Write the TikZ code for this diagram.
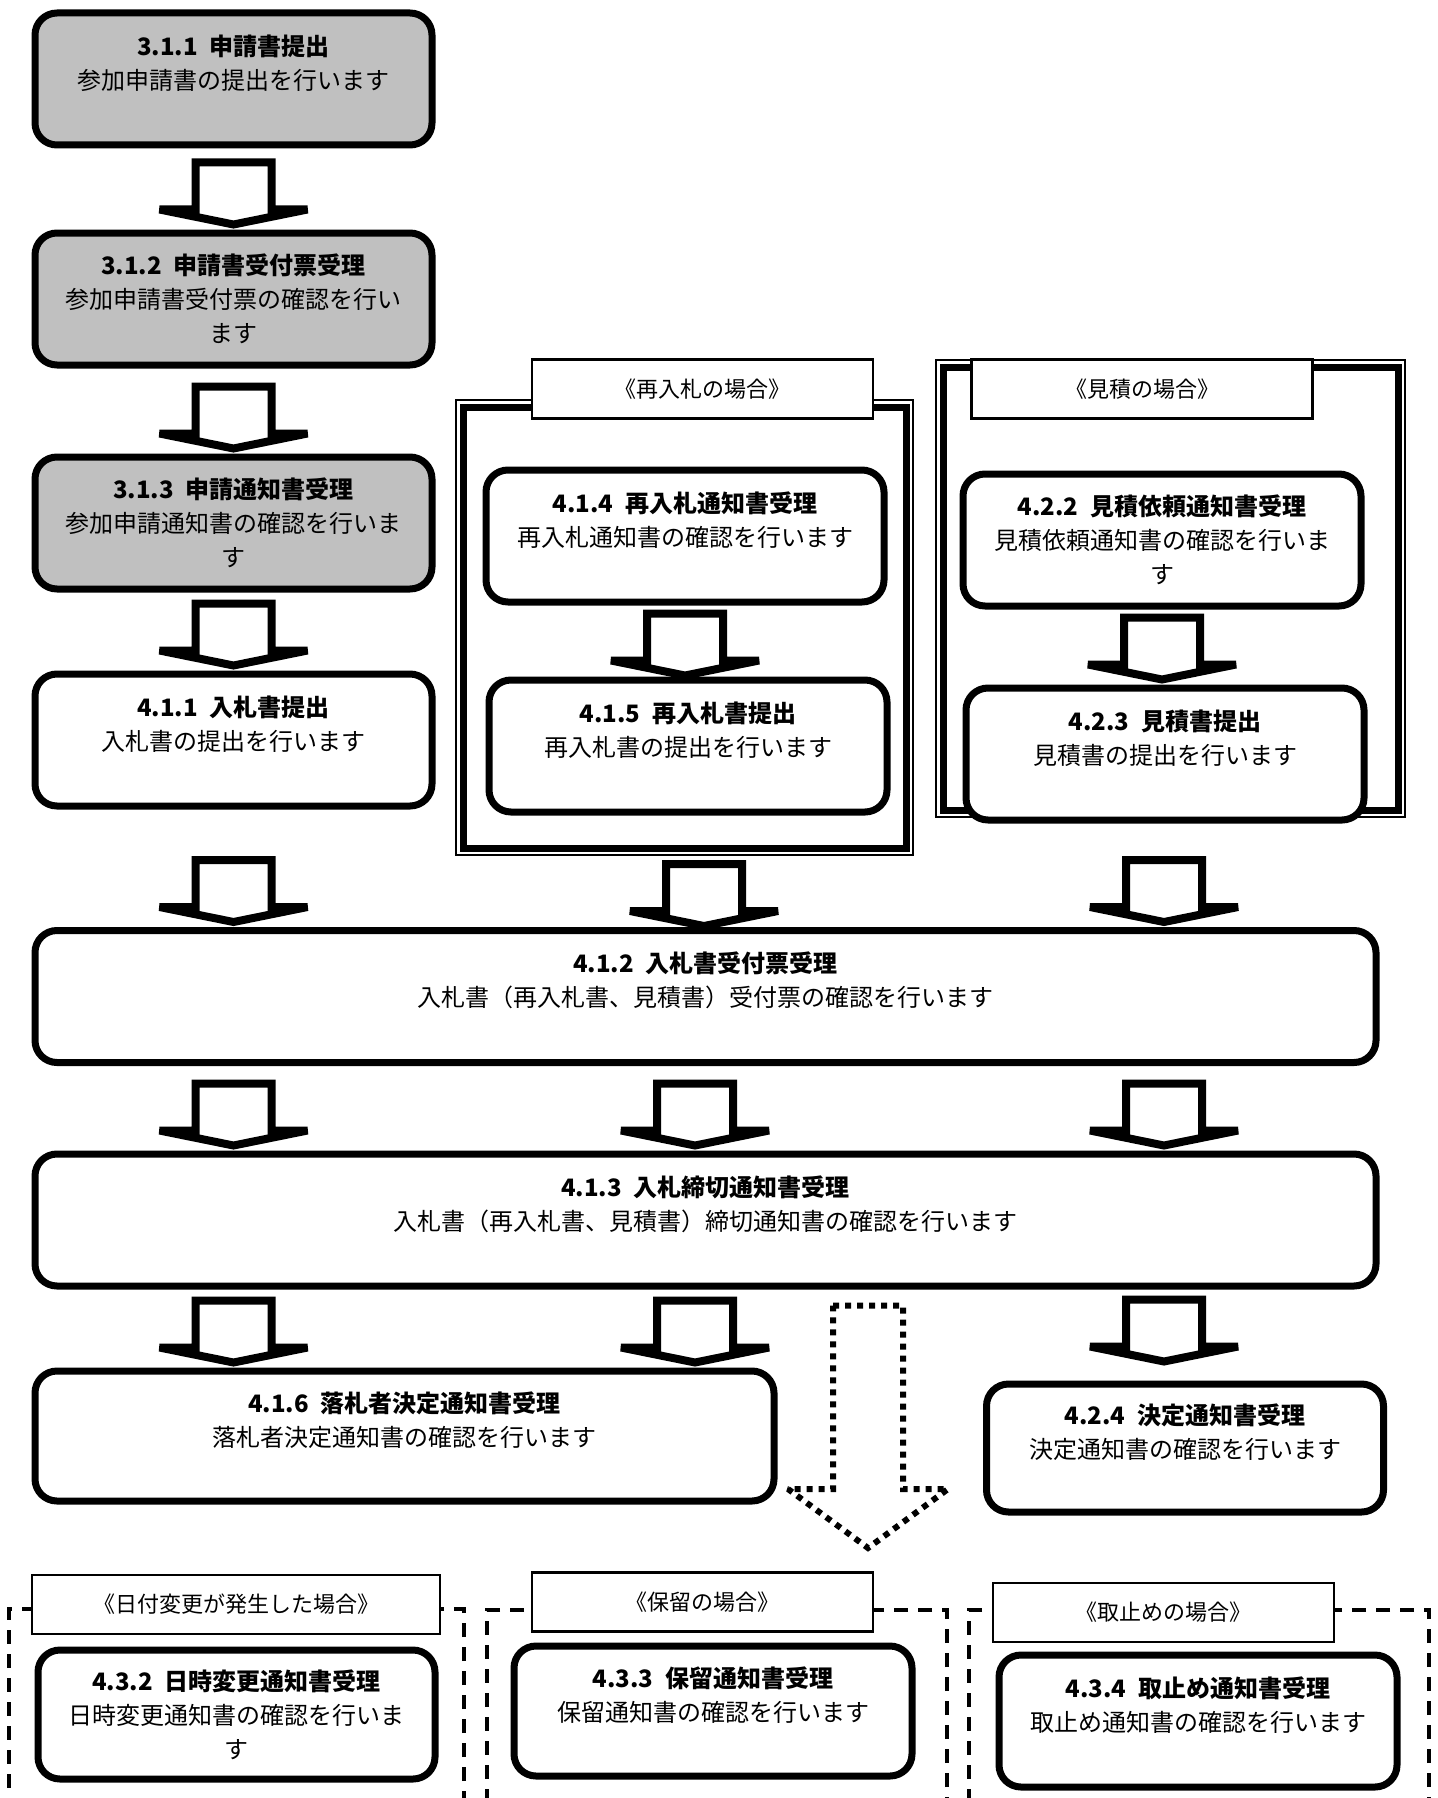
\documentclass[tikz,border=0pt]{standalone}
\usepackage{fontspec}
\setmainfont{Noto Sans CJK JP}
\usetikzlibrary{calc}
\definecolor{boxgray}{RGB}{192,192,192}
\newcommand*{\proctext}[4][\mbox{}]{\textbf{#2\hspace{0.5em}#3}\\#4\\#1}
\newcommand*{\flowarrow}[4][0]{%
  \draw[flow] let \p0=(#2), \p1=(#3.south), \p2=(#4.north),
      \p3=(\x0,{min(\y1-8pt,\y2+67pt+#1pt)}) in
    ({\x3-38pt},\y3) -- ({\x3+38pt},\y3) -- ({\x3+38pt},{\y3-47pt})
    -- ({\x3+74pt},{\y3-47pt}) -- (\x3,{\y3-62pt}) -- ({\x3-74pt},{\y3-47pt})
    -- ({\x3-38pt},{\y3-47pt}) -- cycle;}

\begin{document}
\begin{tikzpicture}[x=1pt, y=-1pt,
    proc/.style={draw, line width=7pt, rounded corners=22pt, fill=white,
      align=center, inner sep=0pt, minimum width=397pt, minimum height=132pt,
      font=\fontsize{24}{34}\selectfont},
    pre/.style={fill=boxgray},
    caption/.style={draw, line width=2.5pt, fill=white, minimum width=341pt,
      minimum height=59pt, font=\fontsize{22}{26}\selectfont},
    frame/.style={draw, line width=2pt, inner sep=0pt},
    optional/.style={draw, line width=4pt, dash pattern=on 14pt off 10pt,
      minimum width=460pt, minimum height=221pt},
    flow/.style={draw, fill=white, line width=8pt, miter limit=2},
    maybe/.style={draw, line width=6pt, dash pattern=on 6pt off 6pt, miter limit=2}]
  \useasboundingbox (0,0) rectangle (1437,1798);

  \node[frame, minimum width=457pt, minimum height=455pt] (grpM) at (684.5,627.5) {};
  \node[frame, minimum width=469pt, minimum height=457pt] (grpR) at (1170.5,588.5) {};
  \foreach \g in {grpM, grpR}
    \draw[line width=7pt] ([shift={(8,8)}]\g.north west) rectangle ([shift={(-8,-8)}]\g.south east);
  \node[caption] (labM) at (702.5,389) {《再入札の場合》};
  \node[caption] (labR) at (1142,389) {《見積の場合》};

  \node[optional, minimum width=455pt] (grp1) at (236.5,1719.5) {};
  \node[optional] (grp2) at (717,1720.5) {};
  \node[optional] (grp3) at (1199,1720.5) {};
  \node[caption, minimum width=408pt] (lab1) at (236,1604.5) {《日付変更が発生した場合》};
  \node[caption] (lab2) at (702.5,1602) {《保留の場合》};
  \node[caption] (lab3) at (1163.5,1612.5) {《取止めの場合》};

  \node[proc, pre] (b311) at (233.5,79) {\proctext{3.1.1}{申請書提出}{参加申請書の提出を行います}};
  \node[proc, pre] (b312) at (233.5,299) {\proctext[ます]{3.1.2}{申請書受付票受理}{参加申請書受付票の確認を行い}};
  \node[proc, pre] (b313) at (233.5,523) {\proctext[す]{3.1.3}{申請通知書受理}{参加申請通知書の確認を行いま}};
  \node[proc] (b411) at (233.5,740) {\proctext{4.1.1}{入札書提出}{入札書の提出を行います}};
  \node[proc, minimum width=398pt] (b414) at (685,536) {\proctext{4.1.4}{再入札通知書受理}{再入札通知書の確認を行います}};
  \node[proc, minimum width=398pt] (b415) at (688,746) {\proctext{4.1.5}{再入札書提出}{再入札書の提出を行います}};
  \node[proc, minimum width=398pt] (b422) at (1162,540) {\proctext[す]{4.2.2}{見積依頼通知書受理}{見積依頼通知書の確認を行いま}};
  \node[proc, minimum width=398pt] (b423) at (1165,754) {\proctext{4.2.3}{見積書提出}{見積書の提出を行います}};
  \node[proc, minimum width=1341pt] (b412) at (705.5,996.5) {\proctext{4.1.2}{入札書受付票受理}{入札書（再入札書、見積書）受付票の確認を行います}};
  \node[proc, minimum width=1341pt] (b413) at (705.5,1220) {\proctext{4.1.3}{入札締切通知書受理}{入札書（再入札書、見積書）締切通知書の確認を行います}};
  \node[proc, minimum width=739pt, minimum height=130pt] (b416) at (404.5,1436) {\proctext{4.1.6}{落札者決定通知書受理}{落札者決定通知書の確認を行います}};
  \node[proc, minimum height=128pt] (b424) at (1185,1448) {\proctext{4.2.4}{決定通知書受理}{決定通知書の確認を行います}};
  \node[proc, minimum height=129pt] (b432) at (236.5,1714.5) {\proctext[す]{4.3.2}{日時変更通知書受理}{日時変更通知書の確認を行いま}};
  \node[proc, minimum width=398pt, minimum height=130pt] (b433) at (713,1711) {\proctext{4.3.3}{保留通知書受理}{保留通知書の確認を行います}};
  \node[proc, minimum width=398pt] (b434) at (1198,1721) {\proctext{4.3.4}{取止め通知書受理}{取止め通知書の確認を行います}};

  \coordinate (colF) at (704,0);
  \coordinate (colM) at (695,0);
  \coordinate (colR) at (1164,0);
  \coordinate (dropend) at (868,1548);

  \foreach \col/\src/\tgt/\up in {b311/b311/b312/0, b311/b312/b313/0, b311/b313/b411/0,
      b311/b411/b412/0, b414/b414/b415/0, colF/grpM/b412/0, b422/b422/b423/0,
      colR/grpR/b412/0, b311/b412/b413/0, colM/b412/b413/0, colR/b412/b413/0,
      b311/b413/b416/0, colM/b413/b416/0, colR/b413/b424/14}
    \flowarrow[\up]{\col}{\src}{\tgt};

  \draw[maybe] let \p1=(b413.south), \p2=(dropend) in
    ({\x2-35pt},{\y1-16pt}) -- ({\x2+35pt},{\y1-16pt}) -- ({\x2+35pt},{\y2+59pt})
    -- ({\x2+80pt},{\y2+59pt}) -- (\x2,\y2) -- ({\x2-80pt},{\y2+59pt})
    -- ({\x2-35pt},{\y2+59pt}) -- cycle;
\end{tikzpicture}
\end{document}
